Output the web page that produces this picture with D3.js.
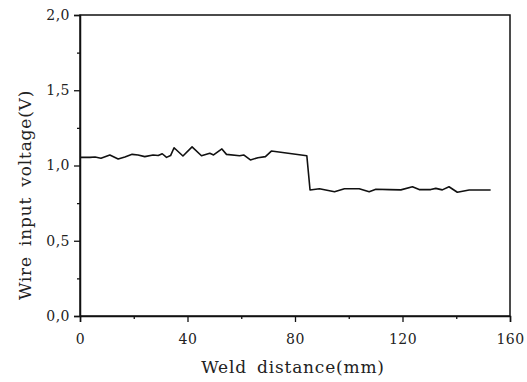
<!DOCTYPE html>
<html>
<head>
<meta charset="utf-8">
<script src="https://cdn.jsdelivr.net/npm/d3@7"></script>
<style>
  body { margin: 0; background: #fff; }
</style>
</head>
<body>
<div id="chart"></div>
<script>
const distance = [0, 3.7, 5.6, 7.8, 11.1, 14.2, 16.7, 19.4, 21.6, 24.1, 27.2, 29.1, 30.6, 32.2, 33.7, 35.0, 38.3, 41.7,
  45.2, 48.3, 49.7, 52.8, 54.5, 59.4, 60.9, 63.4, 66.2, 69.0, 71.2, 84.4, 85.6, 89.1, 94.7, 98.4, 103.9, 107.6,
  110.1, 115.1, 119.4, 123.7, 126.2, 130.5, 132.4, 134.8, 137.3, 140.4, 144.8, 152.8];
const voltage = [1.054, 1.054, 1.056, 1.048, 1.07, 1.043, 1.056, 1.074, 1.07, 1.059, 1.07, 1.066, 1.078, 1.054, 1.066,
  1.118, 1.063, 1.124, 1.065, 1.081, 1.07, 1.11, 1.074, 1.065, 1.07, 1.037, 1.052, 1.059, 1.096, 1.065, 0.837, 0.846,
  0.826, 0.846, 0.846, 0.826, 0.842, 0.84, 0.838, 0.859, 0.84, 0.84, 0.848, 0.838, 0.859, 0.822, 0.837, 0.837];
const xTicks = [0, 40, 80, 120, 160];
const yTicks = [0, 0.5, 1.0, 1.5, 2.0];
const yMinor = [0.25, 0.75, 1.25, 1.75];
const xMinor = [20, 60, 100, 140];

const width = 527, height = 382;
const margin = { top: 15, right: 17, bottom: 66, left: 80 };
const serif = "'DejaVu Serif', serif";

const svg = d3.select("#chart").append("svg")
  .attr("width", width).attr("height", height);

const x = d3.scaleLinear().domain([0, 160]).range([margin.left, width - margin.right]);
const y = d3.scaleLinear().domain([0, 2]).range([height - margin.bottom, margin.top]);

// frame
svg.append("rect")
  .attr("x", x(0)).attr("y", y(2))
  .attr("width", x(160) - x(0)).attr("height", y(0) - y(2))
  .attr("fill", "none").attr("stroke", "#111").attr("stroke-width", 1.5);

const fmt = d => d3.format(".1f")(d).replace(".", ",");

svg.append("g")
  .attr("transform", `translate(0,${y(0)})`)
  .call(d3.axisBottom(x).tickValues(xTicks).tickSize(6).tickPadding(12).tickFormat(d3.format("d")));
svg.append("g")
  .attr("transform", `translate(${x(0)},0)`)
  .call(d3.axisLeft(y).tickValues(yTicks).tickSize(6).tickPadding(4).tickFormat(fmt));

svg.append("g")
  .attr("transform", `translate(${x(0)},0)`)
  .call(d3.axisLeft(y).tickValues(yMinor).tickSize(3).tickFormat(""))
  .select(".domain").remove();
svg.append("g")
  .attr("transform", `translate(0,${y(0)})`)
  .call(d3.axisBottom(x).tickValues(xMinor).tickSize(3).tickFormat(""))
  .select(".domain").remove();

svg.selectAll(".domain").attr("stroke", "#111").attr("stroke-width", 1.5);
svg.selectAll(".tick line").attr("stroke", "#111").attr("stroke-width", 1.3);
svg.selectAll(".tick text")
  .style("font-family", serif)
  .style("font-size", "14px")
  .style("letter-spacing", "0.5px")
  .attr("fill", "#222");

// line
const line = d3.line().x((d, i) => x(distance[i])).y(d => y(d));
svg.append("path")
  .datum(voltage)
  .attr("d", line)
  .attr("fill", "none")
  .attr("stroke", "#111")
  .attr("stroke-width", 1.6)
  .attr("stroke-linejoin", "round");

// titles
svg.append("text")
  .attr("x", 293).attr("y", 373)
  .attr("text-anchor", "middle")
  .style("font-family", serif)
  .style("font-size", "17px")
  .style("letter-spacing", "0.8px")
  .style("word-spacing", "4px")
  .attr("fill", "#222")
  .text("Weld distance(mm)");

svg.append("text")
  .attr("transform", "translate(31,195) rotate(-90)")
  .attr("text-anchor", "middle")
  .style("font-family", serif)
  .style("font-size", "17px")
  .style("letter-spacing", "0.8px")
  .style("word-spacing", "4px")
  .attr("fill", "#222")
  .text("Wire input voltage(V)");
</script>
</body>
</html>
